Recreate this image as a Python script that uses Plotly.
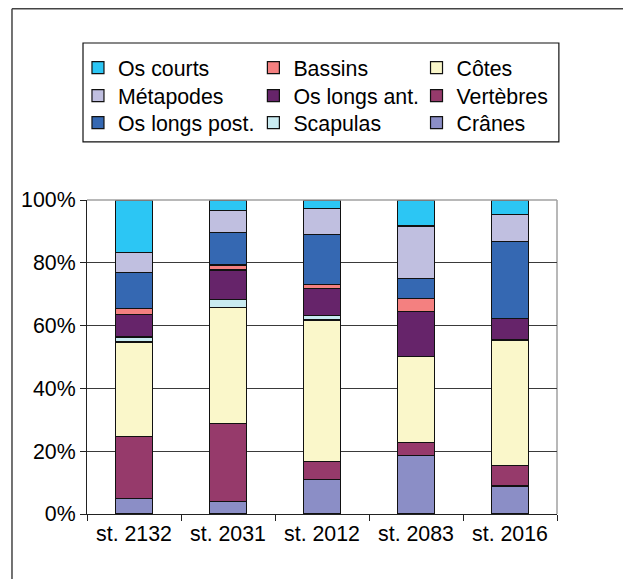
import plotly.graph_objects as go

categories = ["st. 2132", "st. 2031", "st. 2012", "st. 2083", "st. 2016"]

# stack order bottom -> top
cranes = [5.0, 3.9, 11.0, 18.6, 8.9]
vertebres = [19.8, 25.0, 5.7, 4.2, 6.5]
cotes = [30.0, 36.9, 45.1, 27.3, 40.0]
scapulas = [1.6, 2.6, 1.3, None, None]
os_longs_ant = [7.2, 9.3, 8.8, 14.5, 6.9]
bassins = [1.9, 1.6, 1.3, 4.1, None]
os_longs_post = [11.5, 10.4, 15.7, 6.4, 24.4]
metapodes = [6.2, 6.9, 8.4, 16.6, 8.8]
os_courts = [16.8, 3.4, 2.7, 8.3, 4.5]

y_ticks = [0, 20, 40, 60, 80, 100]
y_tick_labels = ["0%", "20%", "40%", "60%", "80%", "100%"]

# name, values, colour, legend column, legend row
series = [
    ("Crânes", cranes, "#8B8EC6", 2, 2),
    ("Vertèbres", vertebres, "#963A6B", 2, 1),
    ("Côtes", cotes, "#FAF7CA", 2, 0),
    ("Scapulas", scapulas, "#C9EBF1", 1, 2),
    ("Os longs ant.", os_longs_ant, "#66246A", 1, 1),
    ("Bassins", bassins, "#F48080", 1, 0),
    ("Os longs post.", os_longs_post, "#3568B2", 0, 2),
    ("Métapodes", metapodes, "#C0BFE0", 0, 1),
    ("Os courts", os_courts, "#2CC6F4", 0, 0),
]

FONT = "Arial, Liberation Sans, sans-serif"
FS = 21.33

col_x = [-0.0192, 0.354, 0.7011]
row_y = [1.4214, 1.3322, 1.2462]

fig = go.Figure()
legends = {}
for i, (name, vals, color, col, row) in enumerate(series):
    key = "legend" if i == 0 else f"legend{i + 1}"
    fig.add_trace(go.Bar(
        x=categories, y=vals, name=name, legend=key, showlegend=True,
        marker=dict(color=color, line=dict(color="#111111", width=1.2)),
    ))
    legends[key] = dict(
        x=col_x[col], y=row_y[row], xanchor="left", yanchor="middle",
        orientation="v", bgcolor="rgba(0,0,0,0)", borderwidth=0,
        font=dict(family=FONT, size=FS, color="#000"), itemwidth=30,
    )

frame_line = dict(color="#444", width=1.5)
FX0, FX1, FYT, FYB = -0.1596, 1.151, 1.609, -0.35

fig.update_layout(
    width=623, height=571, showlegend=True,
    margin=dict(l=79, r=74, t=192, b=65, autoexpand=False, pad=0),
    paper_bgcolor="white", plot_bgcolor="white",
    barmode="stack", bargap=0.6,
    font=dict(family=FONT, size=FS, color="#000"),
    xaxis=dict(
        type="category", showline=True, linecolor="#222", linewidth=1.2,
        ticks="outside", tickson="boundaries", ticklen=6, tickcolor="#222",
        tickfont=dict(family=FONT, size=FS, color="#000"), showgrid=False,
    ),
    yaxis=dict(
        range=[0, 100], tickvals=y_ticks, ticktext=y_tick_labels,
        showline=True, linecolor="#222", linewidth=1.2,
        ticks="outside", ticklen=6, tickcolor="#222",
        showgrid=True, gridcolor="#3a3a3a", gridwidth=1,
        tickfont=dict(family=FONT, size=FS, color="#000"),
        zeroline=False,
    ),
    shapes=[
        dict(type="line", xref="paper", yref="paper", x0=0, x1=1, y0=1, y1=1,
             line=dict(color="#A0A0A0", width=1.5), layer="above"),
        dict(type="line", xref="paper", yref="paper", x0=1, x1=1, y0=0, y1=1,
             line=dict(color="#A0A0A0", width=1.5), layer="below"),
        dict(type="rect", xref="paper", yref="paper",
             x0=-0.0085, x1=1.004, y0=1.185, y1=1.5,
             line=dict(color="#111", width=1.2)),
        # chart area frame: left, top, right (bottom edge lies below the page)
        dict(type="line", xref="paper", yref="paper", x0=FX0, x1=FX0, y0=FYB, y1=FYT,
             line=frame_line),
        dict(type="line", xref="paper", yref="paper", x0=FX0, x1=FX1, y0=FYT, y1=FYT,
             line=frame_line),
        dict(type="line", xref="paper", yref="paper", x0=FX1, x1=FX1, y0=FYB, y1=FYT,
             line=frame_line),
    ],
)
fig.update_layout(**legends)

fig.write_html("out.html")
